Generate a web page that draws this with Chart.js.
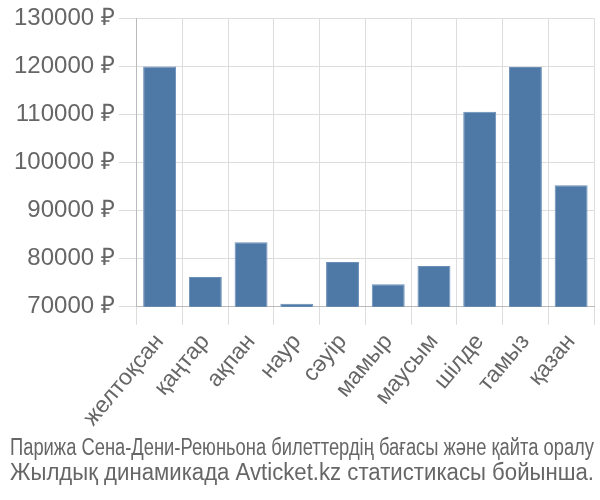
<!DOCTYPE html>
<html>
<head>
<meta charset="utf-8">
<script src="https://cdn.jsdelivr.net/npm/chart.js@4"></script>
<style>
  html, body { margin: 0; padding: 0; background: #fff; }
  #wrap { width: 600px; height: 500px; }
</style>
</head>
<body>
<div id="wrap"><canvas id="chart"></canvas></div>
<script>
const months = ['желтоқсан', 'қаңтар', 'ақпан', 'наур', 'сәуір', 'мамыр', 'маусым', 'шілде', 'тамыз', 'қазан'];
const prices = [120000, 76200, 83400, 70600, 79300, 74700, 78500, 110600, 119900, 95300];
const titleLines = [
  'Парижа Сена-Дени-Реюньона билеттердің бағасы және қайта оралу',
  'Жылдық динамикада Avticket.kz статистикасы бойынша.'
];

const ctx = document.getElementById('chart').getContext('2d');
new Chart(ctx, {
  type: 'bar',
  data: {
    labels: months,
    datasets: [{
      data: prices,
      backgroundColor: '#4e79a7',
      borderColor: '#6a8fb8',
      borderWidth: 1,
      barPercentage: 0.72,
      categoryPercentage: 1,
    }],
  },
  options: {
    responsive: true,
    maintainAspectRatio: false,
    animation: false,
    layout: { padding: { left: 10, right: 6, top: 0, bottom: 13 } },
    plugins: {
      legend: { display: false },
      tooltip: { enabled: false },
      title: {
        display: true,
        position: 'bottom',
        text: titleLines,
        color: '#666',
        font: { family: 'Liberation Sans', size: 23, weight: 'normal', lineHeight: 1.12 },
        padding: { top: 0, bottom: 0 },
      },
    },
    scales: {
      x: {
        grid: { color: '#dddddd', offset: true, tickLength: 18 },
        border: { color: '#bbbbbb' },
        ticks: {
          color: '#666',
          font: { family: 'Liberation Sans', size: 23 },
          maxRotation: 50,
          minRotation: 50,
          padding: 4,
        },
      },
      y: {
        min: 70000,
        max: 130000,
        grid: { color: '#dddddd', tickLength: 18 },
        border: { color: '#bbbbbb' },
        ticks: {
          stepSize: 10000,
          color: '#666',
          padding: 4,
          font: { family: 'Liberation Sans', size: 24 },
          callback: v => v + ' ₽',
        },
      },
    },
  },
});
</script>
</body>
</html>
